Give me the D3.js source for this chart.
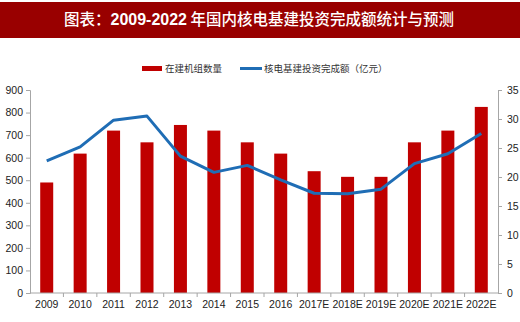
<!DOCTYPE html>
<html><head><meta charset="utf-8">
<script src="https://cdn.jsdelivr.net/npm/d3@7"></script>
<style>body{margin:0;background:#fff}svg{display:block}</style>
</head><body><svg id="c" width="520" height="322"></svg>
<script>
const categories = ["2009","2010","2011","2012","2013","2014","2015","2016","2017E","2018E","2019E","2020E","2021E","2022E"];
const units = [490,618,720,668,745,720,668,618,540,515,515,668,720,825];
const invest = [22.8,25.2,29.8,30.5,23.6,20.8,22.0,19.5,17.2,17.1,17.9,22.3,24.0,27.5];
const leftTicks = [0,100,200,300,400,500,600,700,800,900];
const rightTicks = [0,5,10,15,20,25,30,35];
const seriesNames = ["在建机组数量","核电基建投资完成额（亿元）"];
const titleParts = ["图表：","2009-2022"," 年国内核电基建投资完成额统计与预测"];

const svg = d3.select("#c");
const W=520,H=322;
const m={l:30,r:22,t:90,b:29};
const x0=m.l, x1=W-m.r, yTop=m.t, yBot=H-m.b;

// title band
svg.append("rect").attr("x",0).attr("y",2).attr("width",W).attr("height",36).attr("fill","#990000");
const tt = svg.append("text").attr("x",259).attr("y",25).attr("text-anchor","middle").attr("fill","#fff")
  .attr("font-family","'Noto Sans CJK SC', sans-serif").attr("font-size",15.5);
tt.append("tspan").attr("font-weight","500").text(titleParts[0]);
tt.append("tspan").attr("font-weight","bold").attr("font-family","'Liberation Sans', Arial, sans-serif").attr("font-size",16).text(titleParts[1]);
tt.append("tspan").attr("font-weight","500").text(titleParts[2]);

const xb = d3.scaleBand().domain(categories).range([x0,x1]);
const yL = d3.scaleLinear().domain([0,900]).range([yBot,yTop]);
const yR = d3.scaleLinear().domain([0,35]).range([yBot,yTop]);

// bars
svg.append("g").selectAll("rect").data(units).join("rect")
  .attr("x",(d,i)=>xb(categories[i])+xb.bandwidth()/2-6.5)
  .attr("width",13)
  .attr("y",d=>yL(d)).attr("height",d=>yBot-yL(d)).attr("fill","#c00000");

// line
const line = d3.line().x((d,i)=>xb(categories[i])+xb.bandwidth()/2).y(d=>yR(d));
svg.append("path").datum(invest).attr("d",line).attr("fill","none").attr("stroke","#1f6db5").attr("stroke-width",3).attr("stroke-linejoin","round");

const fontF="'Liberation Sans', Arial, sans-serif";
const gl = svg.append("g").attr("transform",`translate(${x0},0)`)
  .call(d3.axisLeft(yL).tickValues(leftTicks).tickSize(4).tickPadding(3));
const gr = svg.append("g").attr("transform",`translate(${x1},0)`)
  .call(d3.axisRight(yR).tickValues(rightTicks).tickSize(4).tickPadding(5));
const gb = svg.append("g").attr("transform",`translate(0,${yBot})`)
  .call(d3.axisBottom(xb).tickSize(0).tickPadding(8));
gb.select(".domain").attr("d",`M${x0},0H${x1}`);
gb.selectAll("line.sep").data(categories.slice(1)).join("line").attr("class","sep")
  .attr("x1",d=>xb(d)).attr("x2",d=>xb(d)).attr("y1",0).attr("y2",4);
[gl,gr,gb].forEach(g=>{
  g.selectAll(".domain").attr("stroke","#a6a6a6");
  g.selectAll("line").attr("stroke","#a6a6a6");
  g.selectAll("text").attr("font-family",fontF).attr("font-size",10.5).attr("fill","#222");
});

// legend
const lg = svg.append("g").attr("font-family","'Noto Sans CJK SC', sans-serif").attr("font-size",9.5).attr("fill","#333");
lg.append("rect").attr("x",142).attr("y",66).attr("width",20).attr("height",5).attr("fill","#c00000");
lg.append("text").attr("x",165).attr("y",72).text(seriesNames[0]);
lg.append("line").attr("x1",240).attr("x2",262).attr("y1",68.5).attr("y2",68.5).attr("stroke","#1f6db5").attr("stroke-width",3);
lg.append("text").attr("x",264).attr("y",72).text(seriesNames[1]);
</script></body></html>
